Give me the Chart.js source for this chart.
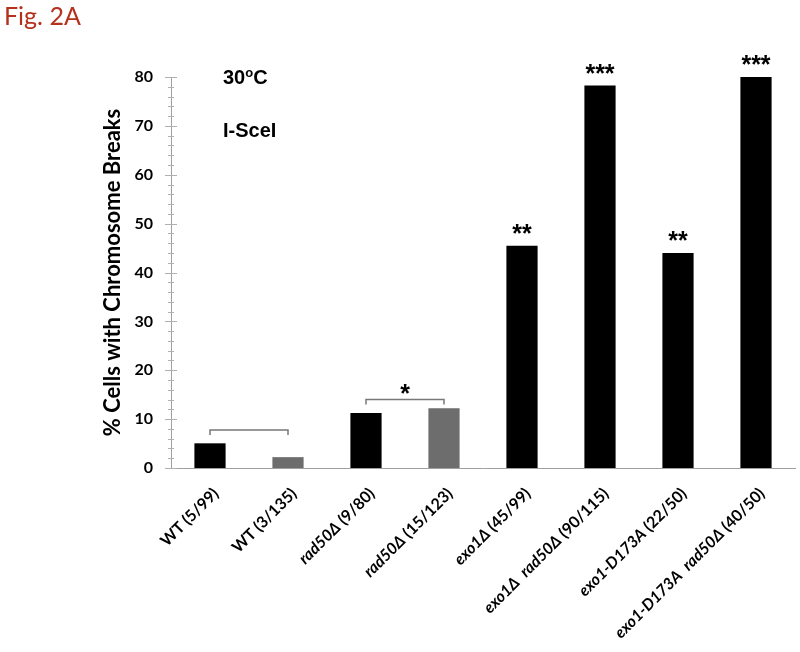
<!DOCTYPE html>
<html>
<head>
<meta charset="utf-8">
<title>Fig. 2A</title>
<style>
    body { margin: 0; background: #fff; }
    #wrap { position: relative; width: 800px; height: 652px; }
    #fig { position: absolute; left: 4px; top: 0px; font: 25px Lato, sans-serif; color: #b4311c; }
</style>
</head>
<body>
<div id="wrap">
    <div id="fig">Fig. 2A</div>
    <canvas id="myChart" width="800" height="652"></canvas>
</div>
<script src="https://cdn.jsdelivr.net/npm/chart.js"></script>
<script>
    // strains (scored cells / total cells)
    const categories = [
        'WT (5/99)',
        'WT (3/135)',
        'rad50Δ (9/80)',
        'rad50Δ (15/123)',
        'exo1Δ (45/99)',
        'exo1Δ  rad50Δ (90/115)',
        'exo1-D173A (22/50)',
        'exo1-D173A  rad50Δ (40/50)'
    ]
    const italicWords = ['rad50Δ', 'exo1Δ', 'exo1-D173A']

    const percent = [5.05, 2.22, 11.25, 12.2, 45.45, 78.26, 44.0, 80.0]
    const stars = ['', '', '', '', '**', '***', '**', '***']

    // comparison brackets: from bar, to bar, height (%), mark
    const brackets = [
        { from: 0, to: 1, level: 7.8, mark: '' },
        { from: 2, to: 3, level: 14.0, mark: '*' }
    ]

    const yTicks = { min: 0, max: 80, step: 10, minor: 2 }

    const greyBars = [1, 3]
    const colors = percent.map((v, i) => greyBars.includes(i) ? '#6d6d6d' : '#000000')

    const calibri = 'Lato, "Open Sans", sans-serif'
    const arial = '"Liberation Sans", Arial, sans-serif'

    const drawLabel = (ctx, text, x, y) => {
        const parts = text.split(/(\s+)/)
        const fonts = parts.map(p => (italicWords.includes(p) ? 'italic ' : '') + 'bold 16px ' + calibri)
        const widths = parts.map((p, i) => { ctx.font = fonts[i]; return ctx.measureText(p).width })
        const total = widths.reduce((a, b) => a + b, 0)
        ctx.save()
        ctx.translate(x, y)
        ctx.rotate(-Math.PI / 4)
        ctx.textAlign = 'left'
        ctx.textBaseline = 'middle'
        ctx.fillStyle = '#000'
        let cx = -total
        parts.forEach((p, i) => {
            ctx.font = fonts[i]
            ctx.fillText(p, cx, 0)
            cx += widths[i]
        })
        ctx.restore()
    }

    const overlay = {
        id: 'overlay',
        afterDraw(chart) {
            const ctx = chart.ctx
            const xs = chart.scales.x
            const ys = chart.scales.y
            const x0 = chart.chartArea.left

            // axis tick marks
            ctx.save()
            ctx.strokeStyle = '#b0b0b0'
            ctx.lineWidth = 1
            for (let v = yTicks.min; v <= yTicks.max; v += yTicks.minor) {
                const y = Math.round(ys.getPixelForValue(v)) + 0.5
                const len = v % yTicks.step === 0 ? 6 : 3
                ctx.beginPath()
                ctx.moveTo(x0 - len, y)
                ctx.lineTo(x0 + len, y)
                ctx.stroke()
            }
            ctx.restore()

            // category labels
            categories.forEach((c, i) => {
                drawLabel(ctx, c, xs.getPixelForValue(i) + 6, 491)
            })

            // significance stars
            ctx.save()
            ctx.fillStyle = '#000'
            ctx.textAlign = 'center'
            ctx.textBaseline = 'alphabetic'
            ctx.font = 'bold 25px ' + arial
            stars.forEach((s, i) => {
                if (!s) return
                ctx.fillText(s, xs.getPixelForValue(i), ys.getPixelForValue(percent[i]) - 4)
            })

            // brackets
            ctx.strokeStyle = '#777'
            ctx.lineWidth = 1.5
            brackets.forEach(b => {
                const xa = xs.getPixelForValue(b.from)
                const xb = xs.getPixelForValue(b.to)
                const y = ys.getPixelForValue(b.level)
                ctx.beginPath()
                ctx.moveTo(xa, y + 5)
                ctx.lineTo(xa, y)
                ctx.lineTo(xb, y)
                ctx.lineTo(xb, y + 5)
                ctx.stroke()
                if (b.mark) ctx.fillText(b.mark, (xa + xb) / 2, y + 2)
            })

            // condition text
            ctx.textAlign = 'left'
            ctx.font = 'bold 20px ' + arial
            const tx = x0 + 52
            ctx.fillText('30', tx, 84)
            const w30 = ctx.measureText('30').width
            ctx.font = 'bold 13px ' + arial
            ctx.fillText('o', tx + w30, 77)
            const wo = ctx.measureText('o').width
            ctx.font = 'bold 20px ' + arial
            ctx.fillText('C', tx + w30 + wo, 84)
            ctx.fillText('I-SceI', tx, 137)
            ctx.restore()
        }
    }

    const ctx = document.getElementById('myChart').getContext('2d')
    new Chart(ctx, {
        type: 'bar',
        data: {
            labels: categories,
            datasets: [{
                data: percent,
                backgroundColor: colors,
                barPercentage: 0.4,
                categoryPercentage: 1
            }]
        },
        options: {
            responsive: false,
            animation: false,
            layout: { padding: { top: 77, right: 5, left: 0, bottom: 0 } },
            plugins: {
                legend: { display: false },
                tooltip: { enabled: false }
            },
            scales: {
                x: {
                    grid: { display: false },
                    border: { color: '#a0a0a0', width: 1 },
                    ticks: { display: false },
                    afterFit: s => { s.height = 184 }
                },
                y: {
                    min: yTicks.min,
                    max: yTicks.max,
                    grid: { display: false },
                    border: { color: '#a0a0a0', width: 1 },
                    ticks: {
                        stepSize: yTicks.step,
                        padding: 10,
                        color: '#000',
                        font: { family: calibri, size: 16, weight: 'bold' }
                    },
                    title: {
                        display: true,
                        text: '% Cells with Chromosome Breaks',
                        color: '#000',
                        font: { family: calibri, size: 22, weight: 'bold' },
                        padding: { top: 100, bottom: 0 }
                    },
                    afterFit: s => { s.width = 171 }
                }
            }
        },
        plugins: [overlay]
    })
</script>
</body>
</html>
